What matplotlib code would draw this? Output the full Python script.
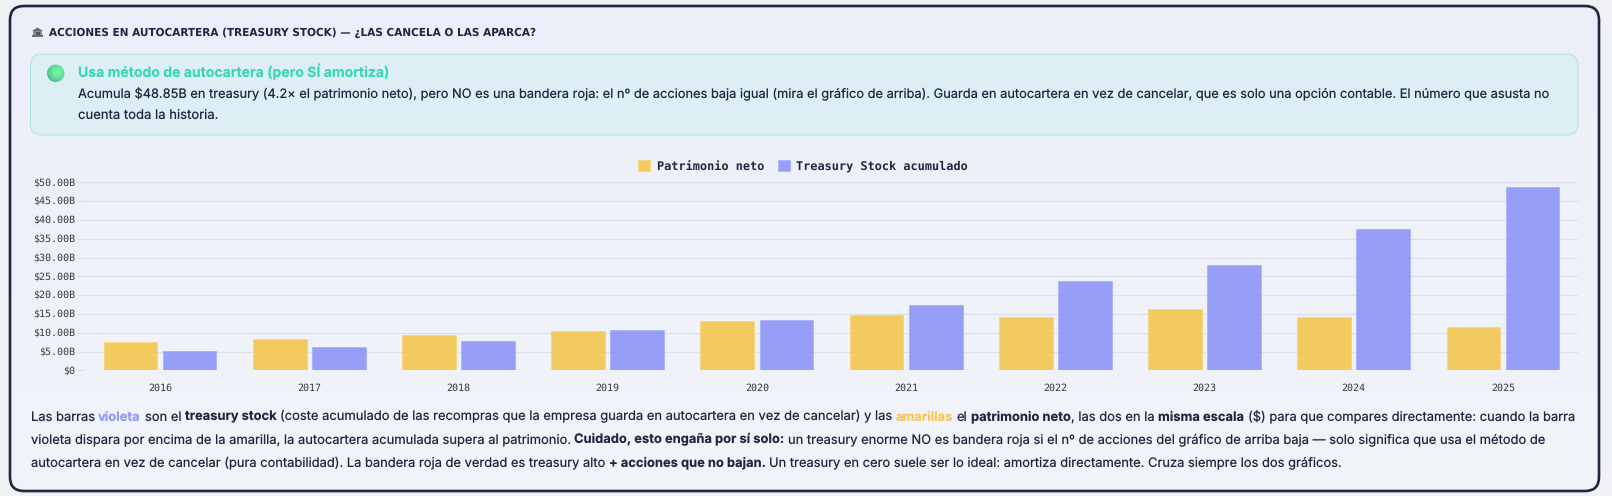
import numpy as np
import matplotlib
matplotlib.use("Agg")
import matplotlib.pyplot as plt
from matplotlib.patches import FancyBboxPatch, Rectangle, Polygon, Circle

years = ["2016", "2017", "2018", "2019", "2020", "2021", "2022", "2023", "2024", "2025"]
patrimonio = [7.5, 8.4, 9.3, 10.5, 13.2, 14.8, 14.1, 16.3, 14.1, 11.6]
treasury = [5.1, 6.1, 7.9, 10.6, 13.5, 17.3, 23.7, 28.1, 37.6, 48.85]
y_ticks = [0, 5, 10, 15, 20, 25, 30, 35, 40, 45, 50]
y_labels = ["$0", "$5.00B", "$10.00B", "$15.00B", "$20.00B", "$25.00B",
            "$30.00B", "$35.00B", "$40.00B", "$45.00B", "$50.00B"]

plt.rcParams["text.hinting"] = "no_hinting"

INK = "#1e2640"
VIOLET = "#8f97ff"
AMBER = "#fbc452"
TEAL = "#35d6ba"
GRID = "#dcdfe9"
BODY_FONT = "Inter"
MONO_FONT = "DejaVu Sans Mono"

W, H = 1612, 496
fig = plt.figure(figsize=(W / 100, H / 100), dpi=100, facecolor="#eff1f5")

# pixel-space layer for the card and text
bg = fig.add_axes([0, 0, 1, 1])
bg.set_xlim(0, W)
bg.set_ylim(H, 0)
bg.axis("off")


def rounded(x0, y0, x1, y1, r, **kw):
    return FancyBboxPatch((x0 + r, y0 + r), x1 - x0 - 2 * r, y1 - y0 - 2 * r,
                          boxstyle="round,pad=%d,rounding_size=%d" % (r, r), **kw)


card = rounded(10, 6, 1599, 491, 14, fc="none", ec="none")
bg.add_patch(card)
grad = np.linspace(0, 1, 64).reshape(-1, 1, 1)
top = np.array([0.925, 0.937, 0.98]).reshape(1, 1, 3)
bottom = np.array([0.945, 0.957, 0.976]).reshape(1, 1, 3)
im = bg.imshow(top + (bottom - top) * grad, extent=(10, 1599, 491, 6), aspect="auto", zorder=1)
im.set_clip_path(card)
bg.add_patch(rounded(10, 6, 1599, 491, 14, fc="none", ec=INK, lw=1.9, zorder=2))
bg.add_patch(rounded(30.5, 54, 1578, 135, 11, fc="#ddeef4", ec="#a9e6e3", lw=0.7, zorder=2))

# sphere in the callout
yy, xx = np.mgrid[-1:1:48j, -1:1:48j]
d = np.clip(np.sqrt((xx - 0.2) ** 2 + (yy + 0.1) ** 2) / 1.3, 0, 1)[..., None] ** 1.5
light = np.array([0.47, 0.97, 0.62]).reshape(1, 1, 3)
dark = np.array([0.28, 0.70, 0.56]).reshape(1, 1, 3)
ball = bg.imshow(light + (dark - light) * d, extent=(47, 64.4, 82, 64.6), aspect="auto", zorder=3)
ball.set_clip_path(Circle((55.7, 73.3), 8.7, transform=bg.transData))

# small building icon in front of the heading
ICON = "#6f6a78"
bg.add_patch(Polygon([(32, 31), (37.5, 27.5), (43, 31)], fc=ICON, ec="none", zorder=3))
bg.add_patch(Rectangle((33, 31), 9, 4, fc="#8d8993", ec="none", zorder=3))
bg.add_patch(Rectangle((35.5, 32), 4, 3, fc="#57525f", ec="none", zorder=3))
bg.add_patch(Rectangle((32, 35), 11, 1.5, fc=ICON, ec="none", zorder=3))

bg.set_xlim(0, W)
bg.set_ylim(H, 0)

renderer = fig.canvas.get_renderer()


def draw_line(x, y, end, runs, size, family=BODY_FONT):
    """Place mixed-weight runs on one baseline, font size fitted so the line finishes at end."""
    parts = []
    for text, weight, color in runs:
        t = bg.text(x, y, text.strip(), family=family, fontweight=weight, color=color,
                    va="baseline", ha="left", zorder=4)
        parts.append((t, text[:1] == " ", text[-1:] == " "))
    for _ in range(3):
        space = size * 100 / 72 * 0.28
        total = 0.0
        for t, lead, trail in parts:
            t.set_fontsize(size)
            total += t.get_window_extent(renderer).width + space * (lead + trail)
        size *= (end - x) / total
    space = size * 100 / 72 * 0.28
    cur = x
    for t, lead, trail in parts:
        t.set_fontsize(size)
        cur += space * lead
        t.set_x(cur)
        cur += t.get_window_extent(renderer).width + space * trail


N = "normal"
B = "bold"
draw_line(49.3, 35.7, 536, [("ACCIONES EN AUTOCARTERA (TREASURY STOCK) — ¿LAS CANCELA O LAS APARCA?", B, INK)], 7.6, "DejaVu Sans")
draw_line(78, 77, 389, [("Usa método de autocartera (pero SÍ amortiza)", B, TEAL)], 10.2)
draw_line(78, 98, 1549, [("Acumula $48.85B en treasury (4.2× el patrimonio neto), pero NO es una bandera roja: el nº de acciones baja igual (mira el gráfico de arriba). Guarda en autocartera en vez de cancelar, que es solo una opción contable. El número que asusta no", N, INK)], 9.4)
draw_line(78, 119, 218.6, [("cuenta toda la historia.", N, INK)], 9.4)
draw_line(30.7, 420.5, 1575, [("Las barras ", N, INK), ("violeta", B, VIOLET), (" son el ", N, INK),
                              ("treasury stock", B, INK),
                              (" (coste acumulado de las recompras que la empresa guarda en autocartera en vez de cancelar) y las ", N, INK),
                              ("amarillas", B, AMBER), (" el ", N, INK), ("patrimonio neto", B, INK),
                              (", las dos en la ", N, INK), ("misma escala", B, INK),
                              (" ($) para que compares directamente: cuando la barra", N, INK)], 9.4)
draw_line(30.7, 443.5, 1545, [("violeta dispara por encima de la amarilla, la autocartera acumulada supera al patrimonio. ", N, INK),
                              ("Cuidado, esto engaña por sí solo:", B, INK),
                              (" un treasury enorme NO es bandera roja si el nº de acciones del gráfico de arriba baja — solo significa que usa el método de", N, INK)], 9.4)
draw_line(30.7, 466, 1342, [("autocartera en vez de cancelar (pura contabilidad). La bandera roja de verdad es treasury alto ", N, INK),
                            ("+ acciones que no bajan.", B, INK),
                            (" Un treasury en cero suele ser lo ideal: amortiza directamente. Cruza siempre los dos gráficos.", N, INK)], 9.4)

# chart
left, right, y50, y0 = 85.4, 1577.6, 182.3, 370.3
ax = fig.add_axes([left / W, 1 - y0 / H, (right - left) / W, (y0 - y50) / H])
ax.patch.set_alpha(0)
x = np.arange(len(years))
ax.bar(x - 0.198, patrimonio, 0.36, color="#f3c443", alpha=0.85, edgecolor="#f7d57e",
       linewidth=0.7, label="Patrimonio neto", zorder=3)
ax.bar(x + 0.198, treasury, 0.36, color="#8790f8", alpha=0.85, edgecolor="#a9b0fb",
       linewidth=0.7, label="Treasury Stock acumulado", zorder=3)
ax.set_xlim(-0.5, len(years) - 0.5)
ax.set_ylim(0, 50)
ax.set_xticks(x)
ax.set_xticklabels(years, family=MONO_FONT, fontsize=7.2, color="#3a3a3a")
ax.set_yticks(y_ticks)
ax.set_yticklabels(y_labels, family=MONO_FONT, fontsize=7.2, color="#3a3a3a")
ax.tick_params(axis="x", length=0, pad=9)
ax.tick_params(axis="y", length=5.6, width=0.8, color=GRID, pad=2)
ax.grid(axis="y", color=GRID, linewidth=0.8, zorder=0)
ax.set_axisbelow(True)
for s in ax.spines.values():
    s.set_visible(False)
leg = ax.legend(loc="lower center", bbox_to_anchor=(0.481, 1.0), ncol=2, frameon=False,
                prop={"family": MONO_FONT, "size": 8.6, "weight": "bold"}, labelcolor=INK,
                handlelength=1.0, handleheight=1.0, handletextpad=0.55, columnspacing=1.15,
                borderaxespad=0.45)

fig.savefig("out.png", dpi=100, facecolor=fig.get_facecolor())
